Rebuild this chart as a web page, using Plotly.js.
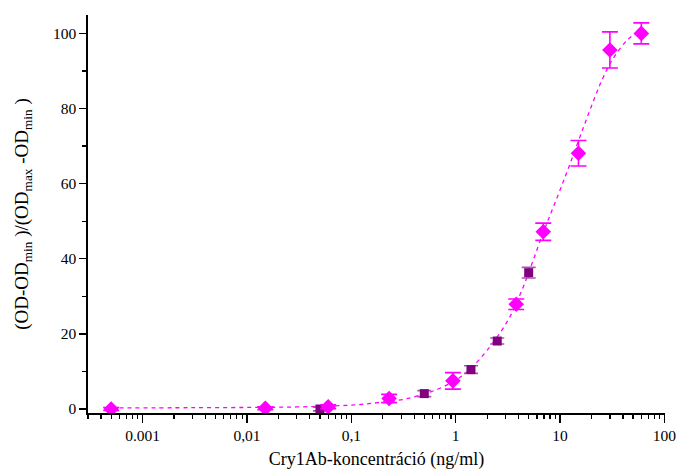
<!DOCTYPE html>
<html>
<head>
<meta charset="utf-8">
<script src="https://cdn.plot.ly/plotly-3.0.1.min.js"></script>
<style>
  html, body { margin: 0; padding: 0; background: #fff; }
  #chart { width: 680px; height: 471px; }
</style>
</head>
<body>
<div id="chart"></div>
<script>
// Dose-response of Cry1Ab: normalised signal vs. concentration (ng/ml)

// Series A (diamonds)
const concA = [0.0005, 0.015, 0.06, 0.23, 0.94, 3.8, 6.9, 15, 30, 60];
const respA = [0.0, 0.2, 0.6, 2.8, 7.5, 27.9, 47.2, 68.1, 95.6, 100.0];
const errA  = [0.4, 0.4, 0.5, 1.1, 2.2, 1.4, 2.3, 3.4, 4.8, 2.8];

// Series B (squares)
const concB = [0.05, 0.5, 1.4, 2.5, 5.0];
const respB = [0.0, 4.1, 10.5, 18.1, 36.3];
const errB  = [0.5, 0.8, 1.0, 0.8, 1.4];

// Fitted sigmoid curve, sampled along its length
const fitConc = [0.0005, 0.003, 0.015, 0.03, 0.06, 0.11, 0.18, 0.32, 0.66, 1.07, 1.7, 3.1, 4.3, 6.9, 9.7, 12.5, 16.8, 21, 25.2, 31.5, 43.9, 60];
const fitResp = [0.3, 0.35, 0.45, 0.55, 0.8, 1.1, 1.7, 2.6, 5.2, 8.2, 13.3, 23.2, 31.6, 47.0, 57.4, 65.4, 75.1, 82.2, 87.6, 92.9, 98.2, 101.0];

// Axis tick labels
const xTickVals = [0.001, 0.01, 0.1, 1, 10, 100];
const xTickText = ['0.001', '0,01', '0,1', '1', '10', '100'];

// minor ticks at 2..9 of every decade on the log axis
const xMinor = [];
for (let e = -4; e <= 1; e++) {
  for (let m = 2; m <= 9; m++) {
    const v = m * Math.pow(10, e);
    if (v >= 0.0003 && v <= 100) xMinor.push(v);
  }
}

const MAGENTA = '#ff00ff';
const PURPLE = '#800080';
const FONT = '"Liberation Serif", "Times New Roman", serif';

const traces = [
  {
    x: fitConc, y: fitResp, type: 'scatter', mode: 'lines',
    line: { color: MAGENTA, width: 1.3, dash: '4px,4px', shape: 'spline', smoothing: 1 },
    hoverinfo: 'skip', showlegend: false
  },
  {
    x: concB, y: respB, type: 'scatter', mode: 'markers',
    marker: { symbol: 'square', size: 9, color: PURPLE },
    error_y: { type: 'data', array: errB, visible: true, color: '#a65aa6', thickness: 1.6, width: 7 },
    showlegend: false
  },
  {
    x: concA, y: respA, type: 'scatter', mode: 'markers',
    marker: { symbol: 'diamond', size: 12, color: MAGENTA },
    error_y: { type: 'data', array: errA, visible: true, color: MAGENTA, thickness: 1.6, width: 8 },
    showlegend: false
  }
];

const layout = {
  width: 680, height: 471,
  margin: { l: 88, r: 15, t: 15, b: 58 },
  paper_bgcolor: '#fff', plot_bgcolor: '#fff',
  font: { family: FONT, color: '#000', size: 15 },
  xaxis: {
    type: 'log',
    range: [Math.log10(0.0003), Math.log10(100) + 0.005],
    tickmode: 'array', tickvals: xTickVals, ticktext: xTickText,
    ticks: 'outside', ticklen: 8, tickwidth: 1.3, tickcolor: '#000',
    minor: { tickmode: 'array', tickvals: xMinor, ticks: 'outside', ticklen: 4, tickwidth: 1.2, tickcolor: '#000', showgrid: false },
    showline: true, linecolor: '#000', linewidth: 1.6,
    showgrid: false, zeroline: false,
    tickfont: { family: FONT, size: 15.5 },
    title: { text: 'Cry1Ab-koncentráció (ng/ml)', font: { family: FONT, size: 18 }, standoff: 9 }
  },
  yaxis: {
    range: [-1.06, 104.9],
    tickmode: 'linear', tick0: 0, dtick: 20,
    ticks: 'outside', ticklen: 7, tickwidth: 1.3, tickcolor: '#000',
    minor: { dtick: 10, ticks: 'outside', ticklen: 4, tickwidth: 1.2, tickcolor: '#000', showgrid: false },
    showline: true, linecolor: '#000', linewidth: 1.6,
    showgrid: false, zeroline: false,
    tickfont: { family: FONT, size: 15.5 },
    title: { text: '(OD-OD<sub>min</sub> )/(OD<sub>max</sub> -OD<sub>min</sub> )', font: { family: FONT, size: 19 }, standoff: 19 }
  }
};

Plotly.newPlot('chart', traces, layout, { displayModeBar: false, staticPlot: true });
</script>
</body>
</html>
